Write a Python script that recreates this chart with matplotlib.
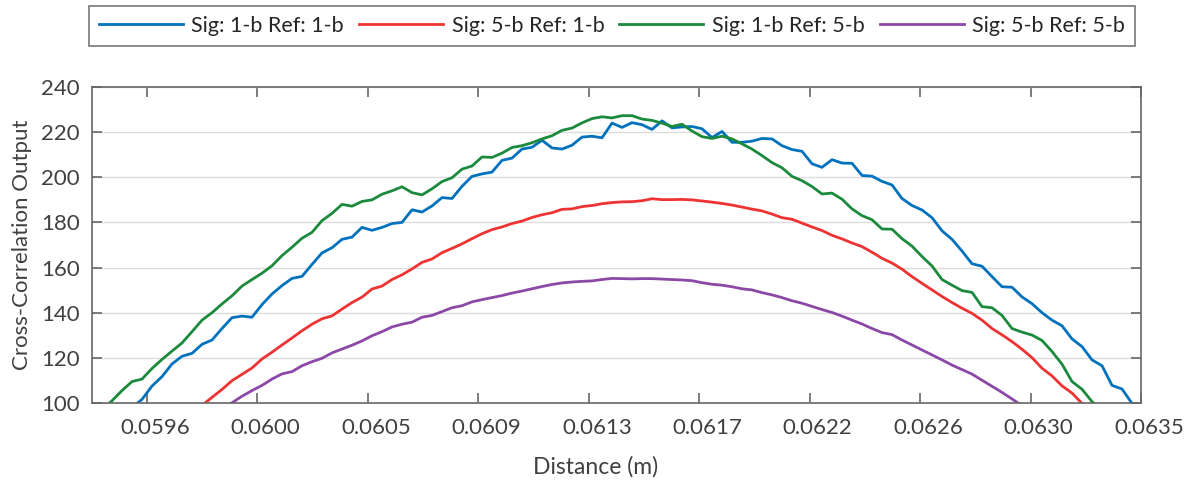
import numpy as np
import matplotlib
matplotlib.use("Agg")
import matplotlib.pyplot as plt
from matplotlib.transforms import ScaledTranslation

plt.rcParams["font.family"] = ["Lato", "DejaVu Sans"]

nan = np.nan

# sampling grid (distance in m) and tick labels
X_START, X_END, N_PTS = 0.059384, 0.063504, 106
TICK_LABELS = ["0.0596", "0.0600", "0.0605", "0.0609", "0.0613",
               "0.0617", "0.0622", "0.0626", "0.0630", "0.0635"]
LABELS = ["Sig: 1-b Ref: 1-b", "Sig: 5-b Ref: 1-b",
          "Sig: 1-b Ref: 5-b", "Sig: 5-b Ref: 5-b"]

sig1_ref1 = [nan, nan, nan, nan, 98, 101.6, 107.5, 111.7, 117.3, 120.7, 122, 126, 127.9, 133,
             137.8, 138.5, 138, 143.6, 148.3, 152, 155.2, 156.1, 161.4, 166.5, 168.8, 172.5, 173.5,
             177.8, 176.5, 177.8, 179.5, 180, 185.6, 184.6, 187.3, 191, 190.6, 196, 200.4, 201.5,
             202.3, 207.5, 208.5, 212.5, 213.3, 216.4, 213, 212.5, 214.2, 217.8, 218.2, 217.5, 224,
             222.1, 224.2, 223.3, 221.2, 225, 221.9, 222.3, 222.5, 221.5, 217.6, 220.3, 215.5, 215.5,
             216, 217.2, 217, 214, 212.3, 211.5, 206, 204.4, 207.8, 206.3, 206.2, 200.8, 200.5, 198.2,
             196.6, 190.6, 187.5, 185.5, 182.1, 176.3, 172.5, 167.3, 161.7, 160.6, 156, 151.5, 151.3,
             147, 144, 140, 136.7, 134.2, 128.4, 125, 119.1, 116.5, 107.8, 106.2, 99.8, 98]

sig5_ref1 = [nan, nan, nan, nan, nan, nan, nan, nan, nan, nan, 95.5, 98.9, 102.5, 106, 109.9,
             112.7, 115.5, 119.5, 122.5, 125.7, 128.8, 132, 134.9, 137.3, 138.6, 141.6, 144.5,
             146.9, 150.5, 151.8, 154.7, 156.8, 159.4, 162.3, 163.8, 166.6, 168.5, 170.5, 172.8, 175,
             176.8, 178, 179.5, 180.6, 182.2, 183.4, 184.3, 185.8, 186, 187, 187.5, 188.3, 188.8,
             189.1, 189.2, 189.6, 190.5, 190.1, 190.1, 190.2, 190, 189.5, 189, 188.4, 187.7, 186.8,
             185.9, 185.1, 183.7, 182.1, 181.4, 179.7, 178, 176.4, 174.3, 172.7, 170.9, 169.3, 166.8,
             164.1, 162, 159.3, 156, 153, 150.1, 147.2, 144.5, 142, 139.7, 136.7, 133, 130.2, 127.2,
             123.8, 120.1, 115.4, 112, 107.6, 104.4, 99.8, 96, nan, nan, nan, nan, nan]

sig1_ref5 = [93, 97, 101, 105.5, 109.5, 110.6, 115.3, 119.3, 123, 126.6, 131.6, 136.7, 140, 143.9,
             147.5, 151.8, 154.7, 157.5, 160.8, 165.3, 169, 173, 175.6, 180.8, 184, 188, 187.2,
             189.3, 190, 192.5, 194, 195.8, 193.2, 192.2, 194.9, 198.1, 199.8, 203.6, 205, 209,
             208.8, 210.7, 213.2, 214, 215.3, 217, 218.4, 220.8, 221.8, 224.1, 226, 226.8, 226.3,
             227.3, 227.3, 225.8, 225.2, 224, 222.5, 223.5, 220.5, 218, 217.2, 218.2, 217, 214.8,
             212.5, 209.6, 206.5, 204.2, 200.4, 198.5, 195.9, 192.6, 193, 190.3, 186, 183, 181.2, 177.1,
             177, 172.8, 169.5, 164.9, 160.7, 154.7, 152.2, 149.8, 149, 142.7, 142.2, 138.8, 133,
             131.4, 130.1, 127.7, 122.8, 117.2, 109.5, 106.1, 100.6, 97, 93, nan, nan, nan]

sig5_ref5 = [nan, nan, nan, nan, nan, nan, nan, nan, nan, nan, nan, 93, 95.5, 97.8, 100.1, 103,
             105.5, 107.8, 110.6, 112.9, 113.9, 116.5, 118.3, 119.8, 122.2, 123.9, 125.6,
             127.5, 129.8, 131.6, 133.7, 134.9, 135.8, 138, 138.8, 140.5, 142.2, 143.1, 144.8, 145.8,
             146.7, 147.6, 148.7, 149.6, 150.6, 151.6, 152.5, 153.2, 153.6, 153.9, 154.1, 154.7, 155.2,
             155.1, 155, 155.1, 155.1, 154.9, 154.7, 154.5, 154.2, 153.3, 152.6, 152.2, 151.5, 150.6,
             150.1, 148.9, 147.9, 146.7, 145.3, 144.2, 142.8, 141.4, 140.1, 138.5, 136.7, 135, 133, 131.2,
             130.3, 127.9, 125.7, 123.5, 121.3, 119.1, 116.8, 114.8, 112.8, 110.1, 107.4, 104.7, 101.8,
             98.8, 95.5, nan, nan, nan, nan, nan, nan, nan, nan, nan, nan, nan]

dist = np.linspace(X_START, X_END, N_PTS)
series = [sig1_ref1, sig5_ref1, sig1_ref5, sig5_ref5]
colors = ["#0072BD", "#EE3333", "#1B8A3C", "#8B48A6"]

fig = plt.figure(figsize=(11.91, 4.83), dpi=100)
ax = fig.add_axes([92 / 1191, 1 - 403 / 483, (1141 - 92) / 1191, (403 - 87) / 483])

for vals, col, lab in zip(series, colors, LABELS):
    ax.plot(dist, vals, color=col, lw=2.0, label=lab)

ax.set_xlim(X_START, 0.0635)
ax.set_ylim(100, 240)
ax.set_xticks(np.linspace(0.0596, 0.0635, len(TICK_LABELS)))
ax.set_xticklabels(TICK_LABELS)
ax.set_yticks(range(100, 241, 20))

ax.grid(axis="y", color="#dcdcdc", lw=1.0)
ax.set_axisbelow(True)
for s in ax.spines.values():
    s.set_color("#666666")
    s.set_linewidth(1.2)
ax.tick_params(axis="both", direction="in", length=7, width=1.2, color="#666666",
               labelsize=16, labelcolor="#404040", top=True, right=True)
ax.tick_params(axis="x", pad=11)
ax.tick_params(axis="y", pad=9)

# x tick labels sit a little right of their ticks in the original
shift = ScaledTranslation(8 / 100, 0, fig.dpi_scale_trans)
for lbl in ax.get_xticklabels():
    lbl.set_transform(lbl.get_transform() + shift)

ax.set_xlabel("Distance (m)", fontsize=16.5, color="#404040")
ax.xaxis.set_label_coords(596 / 1191, 1 - 467 / 483, transform=fig.transFigure)
ax.set_ylabel("Cross-Correlation Output", fontsize=16, color="#404040")
ax.yaxis.set_label_coords(22 / 1191, 1 - 245 / 483, transform=fig.transFigure)
ax.xaxis.label.set_va("center")
ax.yaxis.label.set_va("center")

leg = fig.legend(loc="center", bbox_to_anchor=(612 / 1191, 1 - 26 / 483), ncol=4,
                 fontsize=15.5, frameon=True, fancybox=False, handlelength=3.9,
                 handletextpad=0.4, columnspacing=0.7, borderpad=0.45)
leg.get_frame().set_edgecolor("#555555")
leg.get_frame().set_linewidth(1.2)
for t in leg.get_texts():
    t.set_color("#262626")

fig.savefig("out.png", dpi=100)
